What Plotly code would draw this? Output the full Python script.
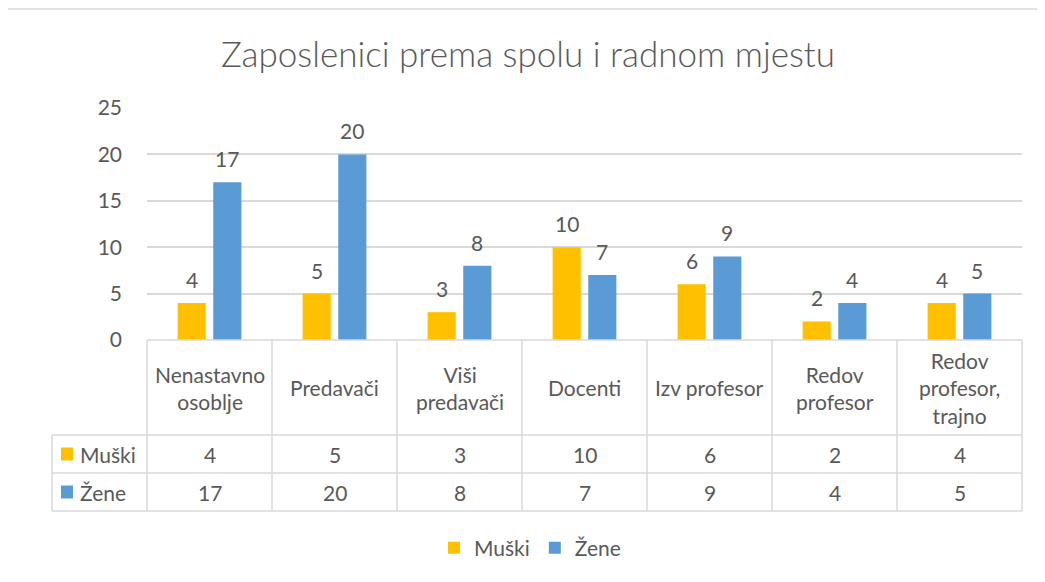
import plotly.graph_objects as go

categories = ["Nenastavno<br>osoblje", "Predavači", "Viši<br>predavači", "Docenti",
              "Izv profesor", "Redov<br>profesor", "Redov<br>profesor,<br>trajno"]
series_names = ["Muški", "Žene"]
muski = [4, 5, 3, 10, 6, 2, 4]
zene = [17, 20, 8, 7, 9, 4, 5]
y_ticks = [0, 5, 10, 15, 20, 25]
title = "Zaposlenici prema spolu i radnom mjestu"

colors = ["#FFC000", "#5B9BD5"]
series = [muski, zene]
TXT = "#595959"
GRID = "#D9D9D9"
FONT = "Lato"
FS = 21

W, H = 1045, 582
OFF = 8  # page body margin
L, R, T, B = 147, 1022, 108, 340  # plot area in reference pixels
n = len(categories)
bargap, bargroupgap = 0.43, 0.21


def px_x(px):
    return (px - L) / (R - L)


def px_y(py):
    return (B - py) / (B - T)


fig = go.Figure()
xs = list(range(n))
for name, vals, c in zip(series_names, series, colors):
    fig.add_trace(go.Bar(x=xs, y=vals, name=name, marker_color=c,
                         marker_line_width=0, hoverinfo="skip"))

annotations = []
shapes = []
slot = (1 - bargap) / 2
for k, vals in enumerate(series):
    off = (k - 0.5) * slot
    for i, v in enumerate(vals):
        annotations.append(dict(x=i + off, y=v, xref="x", yref="y", text=str(v),
                                showarrow=False, yanchor="bottom", yshift=9,
                                font=dict(family=FONT, size=FS, color=TXT)))

# data table
col_w = (R - L) / n
head_bot = 435
row_h = 38
rows_y = [head_bot, head_bot + row_h, head_bot + 2 * row_h]
left_x = 52
line = dict(color=GRID, width=1.5)
shapes.append(dict(type="line", xref="paper", yref="paper", x0=px_x(L), x1=px_x(R),
                   y0=px_y(B), y1=px_y(B), line=line))
for yy in rows_y:
    shapes.append(dict(type="line", xref="paper", yref="paper", x0=px_x(left_x), x1=px_x(R),
                       y0=px_y(yy), y1=px_y(yy), line=line))
for j in range(n + 1):
    xx = L + j * col_w
    shapes.append(dict(type="line", xref="paper", yref="paper", x0=px_x(xx), x1=px_x(xx),
                       y0=px_y(B), y1=px_y(rows_y[-1]), line=line))
shapes.append(dict(type="line", xref="paper", yref="paper", x0=px_x(left_x), x1=px_x(left_x),
                   y0=px_y(rows_y[0]), y1=px_y(rows_y[-1]), line=line))

for j, cat in enumerate(categories):
    cx = L + (j + 0.5) * col_w
    annotations.append(dict(x=px_x(cx), y=px_y((B + head_bot) / 2), xref="paper", yref="paper",
                            text=cat, showarrow=False, xanchor="center", yanchor="middle",
                            font=dict(family=FONT, size=FS, color=TXT)))
    for k, vals in enumerate(series):
        cy = rows_y[k] + row_h / 2
        annotations.append(dict(x=px_x(cx), y=px_y(cy), xref="paper", yref="paper",
                                text=str(vals[j]), showarrow=False, xanchor="center",
                                yanchor="middle", font=dict(family=FONT, size=FS, color=TXT)))

for k, (name, c) in enumerate(zip(series_names, colors)):
    cy = rows_y[k] + row_h / 2
    shapes.append(dict(type="rect", xref="paper", yref="paper", x0=px_x(61), x1=px_x(73),
                       y0=px_y(cy - 6.5), y1=px_y(cy + 6.5), fillcolor=c, line_width=0))
    annotations.append(dict(x=px_x(78), y=px_y(cy), xref="paper", yref="paper", text=name,
                            showarrow=False, xanchor="left", yanchor="middle",
                            font=dict(family=FONT, size=FS, color=TXT)))

# outer chart border (top edge)
shapes.append(dict(type="line", xref="paper", yref="paper", x0=px_x(OFF), x1=px_x(1070),
                   y0=px_y(9), y1=px_y(9), line=dict(color=GRID, width=1.5)))

fig.update_layout(
    width=W - OFF, height=H - OFF,
    margin=dict(l=L - OFF, r=W - R, t=T - OFF, b=H - B, pad=0),
    paper_bgcolor="white", plot_bgcolor="white",
    barmode="group", bargap=bargap, bargroupgap=bargroupgap,
    title=dict(text=title, x=(528 - OFF) / (W - OFF), xanchor="center",
               y=1 - (55 - OFF) / (H - OFF), yanchor="middle",
               xref="container", yref="container",
               font=dict(family=FONT, size=35, color=TXT, weight=300)),
    xaxis=dict(range=[-0.5, n - 0.5], showticklabels=False, showgrid=False,
               zeroline=False, showline=False, fixedrange=True),
    yaxis=dict(range=[0, 25], tickvals=y_ticks, showgrid=True, gridcolor=GRID, gridwidth=1.5,
               zeroline=False, showline=False, ticklabelstandoff=24,
               tickfont=dict(family=FONT, size=FS, color=TXT)),
    legend=dict(orientation="h", x=px_x(530), xanchor="center", y=px_y(548), yanchor="middle",
                font=dict(family=FONT, size=FS, color=TXT), itemwidth=30,
                traceorder="normal"),
    annotations=annotations, shapes=shapes,
    font=dict(family=FONT, color=TXT),
)

fig.write_html("out.html")
